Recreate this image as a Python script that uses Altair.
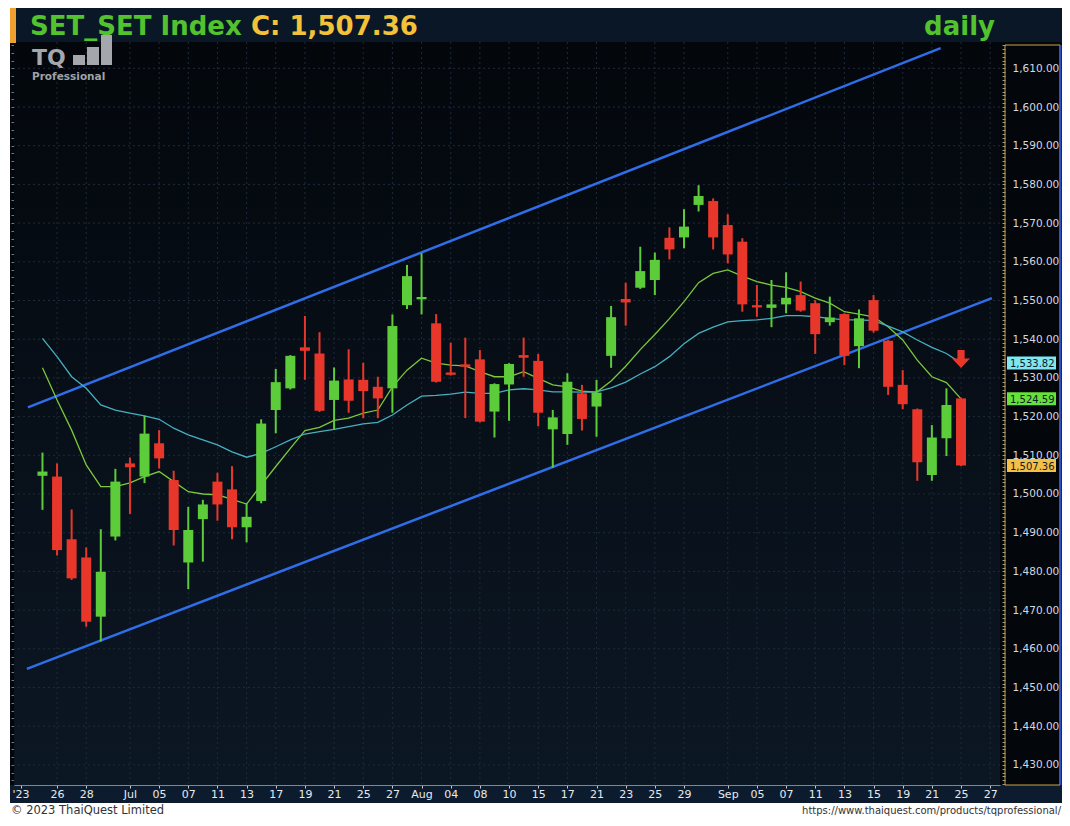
import json
import altair as alt
import pandas as pd

# ---------------- data ----------------
dates = ["2023-06-23", "2023-06-26", "2023-06-27", "2023-06-28", "2023-06-29", "2023-06-30",
         "2023-07-03", "2023-07-04", "2023-07-05", "2023-07-06", "2023-07-07", "2023-07-10",
         "2023-07-11", "2023-07-12", "2023-07-13", "2023-07-14", "2023-07-17", "2023-07-18",
         "2023-07-19", "2023-07-20", "2023-07-21", "2023-07-24", "2023-07-25", "2023-07-26",
         "2023-07-27", "2023-07-31", "2023-08-02", "2023-08-03", "2023-08-04", "2023-08-07",
         "2023-08-08", "2023-08-09", "2023-08-10", "2023-08-11", "2023-08-15", "2023-08-16",
         "2023-08-17", "2023-08-18", "2023-08-21", "2023-08-22", "2023-08-23", "2023-08-24",
         "2023-08-25", "2023-08-28", "2023-08-29", "2023-08-30", "2023-08-31", "2023-09-01",
         "2023-09-04", "2023-09-05", "2023-09-06", "2023-09-07", "2023-09-08", "2023-09-11",
         "2023-09-12", "2023-09-13", "2023-09-14", "2023-09-15", "2023-09-18", "2023-09-19",
         "2023-09-20", "2023-09-21", "2023-09-22", "2023-09-25"]

opens = [1504.7, 1504.5, 1488.3, 1483.6, 1468.3, 1489.0, 1507.9, 1504.5, 1513.1, 1503.6,
         1482.3, 1493.5, 1503.2, 1501.2, 1491.4, 1498.2, 1521.7, 1527.3, 1537.9, 1536.3,
         1524.3, 1529.6, 1529.5, 1527.7, 1527.3, 1548.8, 1550.3, 1544.1, 1531.4, 1533.5,
         1534.8, 1521.3, 1528.3, 1535.9, 1534.4, 1516.7, 1515.5, 1526.0, 1522.6, 1535.7,
         1550.4, 1553.3, 1555.3, 1566.2, 1566.3, 1574.7, 1575.7, 1569.5, 1565.2, 1548.8,
         1548.1, 1549.0, 1551.4, 1549.3, 1544.4, 1546.5, 1538.2, 1550.1, 1539.6, 1528.2,
         1521.9, 1504.9, 1514.4, 1524.7]
highs = [1510.7, 1507.9, 1496.0, 1486.2, 1490.9, 1506.5, 1509.4, 1520.2, 1516.5, 1506.0,
         1496.7, 1498.5, 1505.5, 1507.2, 1497.6, 1519.3, 1532.3, 1535.9, 1546.0, 1541.8,
         1532.7, 1537.4, 1533.9, 1530.3, 1546.4, 1559.2, 1562.2, 1546.5, 1539.1, 1540.4,
         1537.2, 1528.6, 1533.8, 1540.4, 1536.2, 1521.7, 1531.2, 1528.2, 1529.5, 1548.6,
         1554.6, 1563.9, 1562.4, 1568.9, 1573.6, 1579.8, 1576.4, 1572.3, 1566.1, 1554.0,
         1555.3, 1557.3, 1554.9, 1550.1, 1551.0, 1546.7, 1547.7, 1551.4, 1539.8, 1532.0,
         1522.1, 1517.8, 1527.3, 1524.9]
lows = [1495.9, 1484.1, 1477.8, 1465.7, 1461.9, 1488.0, 1494.8, 1502.8, 1506.6, 1486.7,
        1475.4, 1482.5, 1493.1, 1488.3, 1487.5, 1497.6, 1515.7, 1527.0, 1529.5, 1521.2,
        1516.7, 1521.0, 1519.6, 1519.6, 1521.0, 1547.8, 1546.4, 1528.8, 1530.6, 1519.6,
        1518.5, 1514.6, 1518.9, 1530.3, 1517.5, 1506.8, 1512.7, 1516.4, 1514.8, 1532.6,
        1543.5, 1553.0, 1551.4, 1560.6, 1563.5, 1573.0, 1563.2, 1559.6, 1547.1, 1545.8,
        1543.1, 1546.7, 1547.1, 1536.2, 1543.5, 1533.3, 1532.5, 1541.7, 1525.6, 1521.9,
        1503.4, 1503.4, 1509.8, 1507.2]
closes = [1505.8, 1485.5, 1478.2, 1467.0, 1479.9, 1503.2, 1506.9, 1515.6, 1509.2, 1490.7,
          1490.7, 1497.3, 1497.3, 1491.4, 1494.1, 1518.2, 1528.9, 1535.7, 1537.0, 1521.5,
          1529.3, 1524.1, 1526.6, 1524.7, 1543.4, 1556.3, 1550.9, 1529.0, 1530.8, 1532.9,
          1518.7, 1528.4, 1533.6, 1535.2, 1521.0, 1519.8, 1529.0, 1519.4, 1526.2, 1545.7,
          1549.5, 1557.6, 1560.5, 1563.2, 1569.1, 1577.0, 1566.3, 1561.9, 1549.0, 1548.2,
          1549.0, 1550.7, 1547.4, 1541.3, 1545.6, 1535.7, 1545.4, 1542.2, 1527.7, 1523.2,
          1508.2, 1514.6, 1523.0, 1507.36]

ma_short = [1532.6, 1524.3, 1516.5, 1507.5, 1501.9, 1501.9, 1502.9, 1504.5, 1505.8, 1503.2,
            1500.6, 1500.0, 1499.8, 1498.6, 1497.4, 1502.3, 1507.1, 1511.8, 1516.4, 1517.2,
            1519.0, 1519.6, 1520.9, 1521.7, 1527.7, 1532.0, 1535.1, 1533.8, 1533.3, 1533.1,
            1531.6, 1530.3, 1530.3, 1531.6, 1529.9, 1528.2, 1527.7, 1526.6, 1526.3, 1529.2,
            1533.0, 1537.3, 1541.2, 1545.3, 1549.7, 1554.6, 1557.0, 1557.9, 1556.3, 1554.9,
            1554.0, 1553.4, 1552.3, 1550.6, 1549.3, 1547.1, 1546.5, 1545.8, 1543.2, 1539.8,
            1534.6, 1530.3, 1528.8, 1524.59]
ma_long = [1540.2, 1535.5, 1530.3, 1527.3, 1523.0, 1521.7, 1520.9, 1520.2, 1519.3, 1517.0,
           1515.3, 1514.0, 1512.7, 1510.9, 1509.5, 1510.5, 1512.2, 1514.0, 1515.5, 1516.1,
           1516.7, 1517.4, 1518.1, 1518.5, 1520.4, 1523.0, 1525.3, 1525.5, 1525.8, 1526.3,
           1526.0, 1526.0, 1526.9, 1527.2, 1526.9, 1526.4, 1526.4, 1526.3, 1526.4, 1527.4,
           1528.9, 1531.0, 1532.9, 1535.5, 1538.8, 1541.5, 1543.1, 1544.5, 1544.8, 1545.0,
           1545.4, 1546.1, 1546.1, 1545.8, 1545.4, 1545.0, 1545.0, 1544.8, 1543.4, 1541.9,
           1539.8, 1537.9, 1536.3, 1533.82]

tick_pos = [-1.5, 1, 3, 6, 8, 10, 12, 14, 16, 18, 20, 22, 24, 26, 28, 30, 32, 34, 36, 38,
            40, 42, 44, 47, 49, 51, 53, 55, 57, 59, 61, 63, 65]
tick_labels = ["'23", "26", "28", "Jul", "05", "07", "11", "13", "17", "19", "21", "25", "27",
               "Aug", "04", "08", "10", "15", "17", "21", "23", "25", "29", "Sep", "05", "07",
               "11", "13", "15", "19", "21", "25", "27"]
price_grid = [1430, 1440, 1450, 1460, 1470, 1480, 1490, 1500, 1510, 1520, 1530, 1540, 1550,
              1560, 1570, 1580, 1590, 1600, 1610]

chan_names = ["upper", "upper", "lower", "lower"]
chan_idx = [-1.0, 61.6, -1.07, 65.12]
chan_val = [1522.4, 1615.2, 1454.8, 1550.6]

tag_values = [1533.82, 1524.59, 1507.36]
tag_labels = ["1,533.82", "1,524.59", "1,507.36"]
tag_fill = ["#7fe6f2", "#66e03a", "#f4bf45"]

arrow_idx = [63]
arrow_val = [1534.9]

# ---------------- styles ----------------
W, H = 986, 743
GREEN = "#5ccc3a"
RED = "#e8372a"
GRID = "#1d2b3b"
FONT = "DejaVu Sans"

xs = alt.Scale(domain=[-1.61, 65.33], nice=False, zero=False)
ys = alt.Scale(domain=[1424.8, 1616.8], nice=False, zero=False)

candles = pd.DataFrame({"i": list(range(len(dates))), "date": dates, "open": opens,
                        "high": highs, "low": lows, "close": closes})
ma_df = pd.DataFrame({"i": list(range(len(dates))) * 2,
                      "v": ma_short + ma_long,
                      "s": ["short"] * len(ma_short) + ["long"] * len(ma_long)})
chan_df = pd.DataFrame({"name": chan_names, "i": chan_idx, "v": chan_val})
tags_df = pd.DataFrame({"v": tag_values, "lab": tag_labels, "fill": tag_fill})
arrow_df = pd.DataFrame({"i": arrow_idx, "v": arrow_val})
one = pd.DataFrame({"k": [0]})

color_cond = alt.condition("datum.close >= datum.open", alt.value(GREEN), alt.value(RED))

x_axis = alt.Axis(values=tick_pos,
                  labelExpr=f"{json.dumps(tick_labels)}[indexof({json.dumps(tick_pos)}, datum.value)]",
                  orient="bottom", title=None, grid=False, domain=True, domainColor="#7d8894",
                  ticks=True, tickSize=3, tickColor="#c3cad2", labelPadding=6,
                  labelBaseline="middle", labelFont=FONT, labelFontSize=11, labelColor="#e6eaee",
                  labelOverlap=False, labelFlush=False, labelBound=False, zindex=1)

minor_right = [1425 + k for k in range(192)]
right_axis = alt.Axis(values=minor_right, orient="right", title=None, grid=False, domain=False,
                      offset=2, ticks=True, tickSize=3, tickColor="#8c96a0",
                      labelExpr="datum.value % 10 == 0 ? format(datum.value, ',.2f') : ''",
                      labelPadding=7, labelFont=FONT, labelFontSize=10.5, labelColor="#d2d9e0",
                      labelBaseline="middle", labelOverlap=False, labelFlush=False,
                      labelBound=False)
minor_left = [1426 + 2 * k for k in range(96)]
left_axis = alt.Axis(values=minor_left, orient="left", title=None, grid=False, domain=False,
                     ticks=True, tickSize=3, tickColor="#6e7984", labels=False)


def X(field, axis=None):
    return alt.X(field, type="quantitative", scale=xs, axis=axis)


def Y(field, axis=None):
    return alt.Y(field, type="quantitative", scale=ys, axis=axis)


base = alt.Chart(one)


def deco(x, x2, y, y2, color, **kw):
    return base.mark_rect(color=color, **kw).encode(
        x=alt.value(x), x2=alt.value(x2), y=alt.value(y), y2=alt.value(y2))


def txt(text, x, y, size, color, weight="normal", align="left", font=FONT):
    return base.mark_text(align=align, baseline="alphabetic", font=font, fontSize=size,
                          fontWeight=weight, color=color).encode(
        x=alt.value(x), y=alt.value(y), text=alt.value(text))


# decorations
plot_bg = deco(0, W, 0, H, alt.LinearGradient(
    gradient="linear", x1=0, y1=0, x2=0, y2=1,
    stops=[alt.GradientStop(offset=0, color="#03070c"),
           alt.GradientStop(offset=1, color="#0c1724")]))
header = deco(-4, 1048, -34, 0, "#0a1726")
orange = deco(-4, 2, -34, 1, "#f0a030")
band = deco(-4, 1048, 743, 761, "#0c1c2e")
white_bottom = deco(-6, 1048, 761, 774, "#ffffff")
white_left = deco(-6, -4, -34, 774, "#ffffff")
panel = deco(991, 1046, 3, 743, "#000000", fillOpacity=0, stroke="#c9a449", strokeWidth=1)
panel_edge = deco(1046, 1047.5, 3, 743, "#2f4fc0")
logo1 = deco(59, 71, 13, 23, "#a4a8ad")
logo2 = deco(73, 85, 5, 23, "#a4a8ad")
logo3 = deco(87, 98, -7, 23, "#a4a8ad")

hgrid = alt.Chart(pd.DataFrame({"v": price_grid})).mark_rule(
    color=GRID, strokeDash=[2, 3], strokeWidth=1).encode(y=Y("v", left_axis))
vgrid = alt.Chart(pd.DataFrame({"t": tick_pos[1:]})).mark_rule(
    color=GRID, strokeDash=[2, 3], strokeWidth=1).encode(x=X("t", x_axis))

channel = alt.Chart(chan_df).mark_line(strokeWidth=2.5, color="#2f6ee8").encode(
    x=X("i"), y=Y("v"), detail="name:N")

ma = alt.Chart(ma_df).mark_line(strokeWidth=1.3).encode(
    x=X("i"), y=Y("v"), detail="s:N",
    color=alt.Color("s:N", scale=alt.Scale(domain=["short", "long"],
                                           range=["#7cc83a", "#46b0c0"]), legend=None))

wicks = alt.Chart(candles).mark_rule(strokeWidth=2).encode(
    x=X("i"), y=Y("low"), y2="high", color=color_cond)
bodies = alt.Chart(candles).mark_bar(size=10, orient="vertical").encode(
    x=X("i"), y=Y("open", right_axis), y2="close", color=color_cond)

arrow = alt.Chart(arrow_df).mark_point(
    shape="M-0.4,-1L0.4,-1L0.4,-0.05L1,-0.05L0,1L-1,-0.05L-0.4,-0.05Z",
    size=324, filled=True, color=RED, opacity=1).encode(x=X("i"), y=Y("v"))

tag_box = alt.Chart(tags_df).mark_tick(thickness=13, size=49, opacity=1).encode(
    x=alt.value(1017.5), y=Y("v"), color=alt.Color("fill:N", scale=None))
tag_txt = alt.Chart(tags_df).mark_text(align="left", baseline="middle", font=FONT,
                                       fontSize=10, dy=1, color="#0b1a2a").encode(
    x=alt.value(996), y=Y("v"), text="lab:N")

title1 = txt("SET_SET Index ", 16, -7, 26, "#52c22e", weight="bold")
title2 = txt("C: 1,507.36", 237, -7, 26, "#f2c23a", weight="bold")
daily = txt("daily", 981, -7, 26, "#52c22e", weight="bold", align="right")
tq = txt("TQ", 18, 23, 22, "#a4a8ad", weight="bold")
prof = txt("Professional", 18, 38, 10.5, "#9ea3a8", weight="bold")
copy_l = txt("© 2023 ThaiQuest Limited", -3, 772, 11.5, "#333333")
copy_r = txt("https://www.thaiquest.com/products/tqprofessional/", 1047, 772, 10, "#333333",
             align="right")

chart = alt.layer(
    plot_bg, header, orange, band, white_bottom, white_left,
    hgrid, vgrid, channel, ma, wicks, bodies, arrow,
    panel, panel_edge, tag_box, tag_txt,
    logo1, logo2, logo3, title1, title2, daily, tq, prof, copy_l, copy_r,
).resolve_scale(x="shared", y="shared").resolve_axis(x="independent", y="independent").properties(
    width=W, height=H,
    padding={"left": 6, "top": 34, "right": 62, "bottom": 31},
    autosize=alt.AutoSizeParams(type="none"),
    background="#03070b",
).configure_view(strokeWidth=0)

chart.save("out.html", embed_options={"renderer": "svg", "actions": False})
